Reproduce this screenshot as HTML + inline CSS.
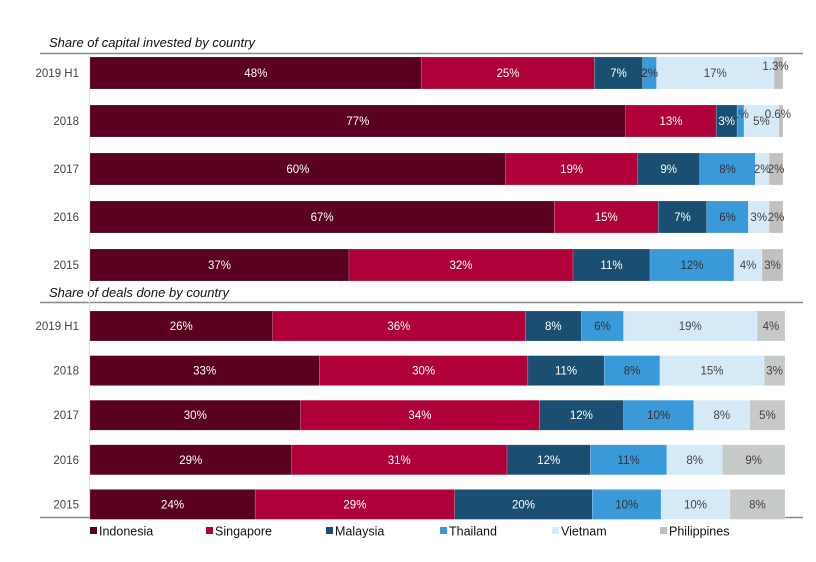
<!DOCTYPE html>
<html><head><meta charset="utf-8"><style>
html,body{margin:0;padding:0;background:#fff;}
svg{display:block;font-family:"Liberation Sans",Arial,sans-serif;}
</style></head><body>
<svg id="chart" width="816" height="562" viewBox="0 0 816 562" xmlns="http://www.w3.org/2000/svg">
<text x="49" y="47" font-size="13" font-style="italic" fill="#111">Share of capital invested by country</text>
<line x1="40" y1="53.5" x2="803" y2="53.5" stroke="#888" stroke-width="1.5"/>
<text x="49" y="297" font-size="13" font-style="italic" fill="#111">Share of deals done by country</text>
<line x1="40" y1="302.5" x2="803" y2="302.5" stroke="#888" stroke-width="1.5"/>
<line x1="40" y1="517.5" x2="803" y2="517.5" stroke="#888" stroke-width="1.5"/>
<line x1="89.5" y1="54" x2="89.5" y2="517" stroke="#ddd" stroke-width="1"/>
<g id="bars"></g>
<g id="labels"></g>
<g id="legend"></g>
</svg>
<script>
const categories = ["2019 H1","2018","2017","2016","2015"];
const countries = ["Indonesia","Singapore","Malaysia","Thailand","Vietnam","Philippines"];
const capitalIndonesia = [48,77,60,67,37];
const capitalSingapore = [25,13,19,15,32];
const capitalMalaysia = [7,3,9,7,11];
const capitalThailand = [2,1,8,6,12];
const capitalVietnam = [17,5,2,3,4];
const capitalPhilippines = [1.3,0.6,2,2,3];
const capitalLabels = [["48%","25%","7%","2%","17%","1.3%"],["77%","13%","3%","1%","5%","0.6%"],["60%","19%","9%","8%","2%","2%"],["67%","15%","7%","6%","3%","2%"],["37%","32%","11%","12%","4%","3%"]];
const dealsIndonesia = [26,33,30,29,24];
const dealsSingapore = [36,30,34,31,29];
const dealsMalaysia = [8,11,12,12,20];
const dealsThailand = [6,8,10,11,10];
const dealsVietnam = [19,15,8,8,10];
const dealsPhilippines = [4,3,5,9,8];

const colors = ["#5a0020","#b0003a","#1a4f72","#3a9ad9","#d6e9f7","#c0c0c0"];
const textColors = ["#fff","#fff","#fff","#333","#444","#444"];
const NS = "http://www.w3.org/2000/svg";
const bars = document.getElementById("bars");
const labels = document.getElementById("labels");
const x0 = 90;

function drawPanel(series, labelsArr, name, width, yFirst, step, h, lastColor) {
  categories.forEach((cat, i) => {
    const yc = yFirst + i * step;
    const t = document.createElementNS(NS, "text");
    
    
    t.setAttribute("x", 79); t.setAttribute("y", yc + 4);
    t.setAttribute("text-anchor", "end"); t.setAttribute("font-size", "11.5"); t.setAttribute("fill", "#444");
    t.textContent = cat; labels.appendChild(t);
    const vals = series.map(s => s[i]);
    const sum = vals.reduce((a, b) => a + b, 0);
    let x = x0;
    vals.forEach((v, j) => {
      const w = v / sum * width;
      const r = document.createElementNS(NS, "rect");
      
      
      r.setAttribute("x", x); r.setAttribute("y", yc - h / 2);
      r.setAttribute("width", w); r.setAttribute("height", h);
      r.setAttribute("fill", j === 5 ? lastColor : colors[j]);
      r.setAttribute("stroke", "rgba(255,255,255,0.35)"); r.setAttribute("stroke-width", "0.5");
      bars.appendChild(r);
      const lb = document.createElementNS(NS, "text");
      
      
      const small = v < 2;
      lb.setAttribute("x", x + w / 2 + (small && j === 5 ? -3 : 0));
      lb.setAttribute("y", yc + 4 - (small ? 7 : 0));
      lb.setAttribute("text-anchor", "middle"); lb.setAttribute("font-size", "11.5");
      lb.setAttribute("fill", small ? "#444" : textColors[j]);
      lb.textContent = labelsArr ? labelsArr[i][j] : Math.round(v) + "%";
      labels.appendChild(lb);
      x += w;
    });
  });
}
drawPanel([capitalIndonesia,capitalSingapore,capitalMalaysia,capitalThailand,capitalVietnam,capitalPhilippines], capitalLabels, "capital", 693, 73, 48, 32, "#c0c0c0");
drawPanel([dealsIndonesia,dealsSingapore,dealsMalaysia,dealsThailand,dealsVietnam,dealsPhilippines], null, "deals", 695, 326, 44.6, 30, "#c5c9c7");

const legend = document.getElementById("legend");
const legendX = [90, 206, 326, 440, 552, 660];
countries.forEach((c, j) => {
  const g = document.createElementNS(NS, "g");
  
  
  const r = document.createElementNS(NS, "rect");
  r.setAttribute("x", legendX[j]); r.setAttribute("y", 527); r.setAttribute("width", 7); r.setAttribute("height", 7);
  r.setAttribute("fill", colors[j]);
  g.appendChild(r);
  const t = document.createElementNS(NS, "text");
  t.setAttribute("x", legendX[j] + 9); t.setAttribute("y", 535.5);
  t.setAttribute("font-size", "12.5"); t.setAttribute("fill", "#111");
  t.textContent = c;
  g.appendChild(t);
  legend.appendChild(g);
});
</script>
</body></html>
